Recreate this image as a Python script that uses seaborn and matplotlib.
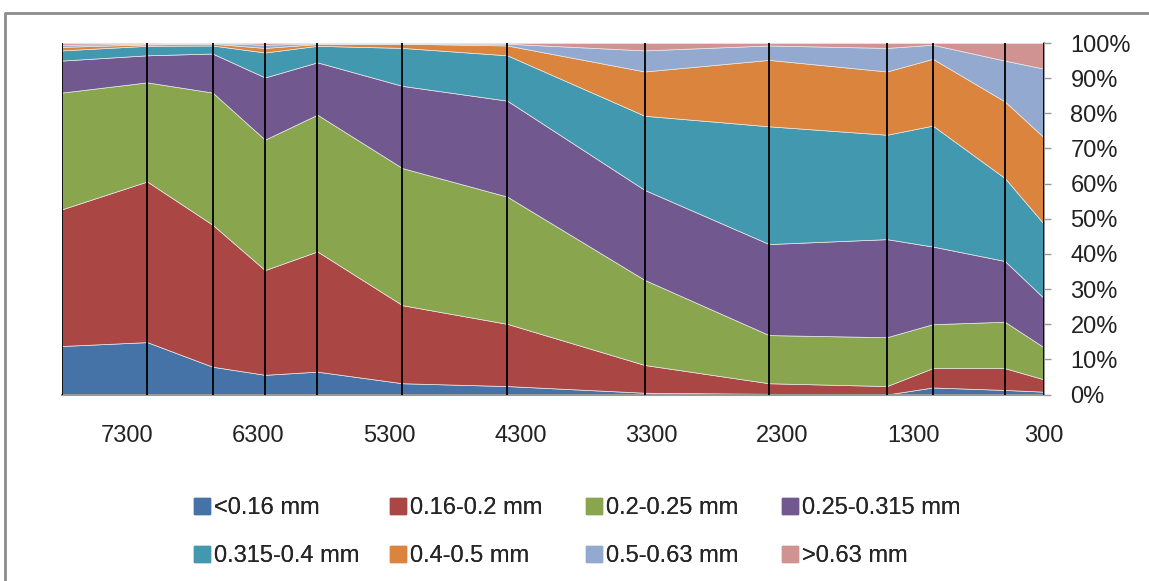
import numpy as np
import pandas as pd
import matplotlib
matplotlib.use('Agg')
import matplotlib.pyplot as plt
import seaborn as sns
from matplotlib.lines import Line2D

# sample positions and fraction shares in %
depth = [7800, 7150, 6650, 6250, 5850, 5200, 4400, 3350, 2400, 1500, 1150, 600, 300]
lt_016 = [13.8, 14.9, 7.9, 5.6, 6.5, 3.2, 2.4, 0.5, 0.2, 0.0, 2.0, 1.3, 0.8]
f016_02 = [38.9, 45.7, 40.4, 29.8, 34.2, 22.2, 17.7, 7.9, 3.0, 2.4, 5.5, 6.2, 3.5]
f02_025 = [33.2, 28.2, 37.6, 37.1, 38.9, 39.0, 36.2, 24.2, 13.7, 13.9, 12.5, 13.2, 9.1]
f025_0315 = [9.1, 7.7, 11.1, 17.7, 14.9, 23.4, 27.3, 25.6, 25.9, 27.9, 22.1, 17.3, 14.0]
f0315_04 = [2.9, 2.7, 2.3, 7.1, 4.7, 10.8, 12.9, 21.1, 33.5, 29.7, 34.4, 23.6, 21.1]
f04_05 = [1.0, 0.4, 0.5, 1.3, 0.5, 1.2, 2.8, 12.6, 18.9, 18.0, 19.0, 21.8, 24.6]
f05_063 = [0.6, 0.2, 0.2, 0.9, 0.2, 0.1, 0.5, 6.0, 4.1, 6.7, 4.0, 11.6, 19.6]
gt_063 = [0.5, 0.2, 0.0, 0.5, 0.1, 0.1, 0.2, 2.1, 0.7, 1.4, 0.5, 5.0, 7.3]

labels = ['<0.16 mm', '0.16-0.2 mm', '0.2-0.25 mm', '0.25-0.315 mm',
          '0.315-0.4 mm', '0.4-0.5 mm', '0.5-0.63 mm', '>0.63 mm']
colors = ['#4572A7', '#AA4643', '#89A54E', '#71588F',
          '#4198AF', '#DB843D', '#93A9CF', '#D19392']
xticks = [7300, 6300, 5300, 4300, 3300, 2300, 1300, 300]
yticks = list(range(0, 101, 10))

df = pd.DataFrame({'depth': depth}).assign(**dict(zip(labels, [
    lt_016, f016_02, f02_025, f025_0315, f0315_04, f04_05, f05_063, gt_063])))
# normalise to 100 %
shares = df[labels].div(df[labels].sum(axis=1), axis=0) * 100

sns.set_theme(style='white')
plt.rcParams['font.family'] = ['Liberation Sans', 'DejaVu Sans']

fig = plt.figure(figsize=(11.49, 5.81), dpi=100)
ax = fig.add_axes([62 / 1149, 1 - 394.5 / 581, (1044 - 62) / 1149, (394.5 - 43) / 581])

ax.stackplot(df['depth'], *[shares[c] for c in labels], colors=colors,
             labels=labels, edgecolor='#e8e8e8', linewidth=0.5)
ax.vlines(df['depth'], 0, 100, color='black', linewidth=1.3, zorder=3)

ax.set_xlim(max(depth), min(depth))
ax.set_ylim(0, 100)
ax.set_xticks(xticks)
ax.set_xticklabels([str(v) for v in xticks])
ax.set_yticks(yticks)
ax.set_yticklabels([f'{v}%' for v in yticks])
ax.yaxis.tick_right()
ax.tick_params(axis='y', which='major', direction='out', length=5, width=1,
               color='#999999', labelsize=17, pad=14, right=True, left=False)
ax.tick_params(axis='x', length=0, labelsize=17, pad=22)
for t in ax.get_yticklabels() + ax.get_xticklabels():
    t.set_color('#222222')

for s in ['top', 'left']:
    ax.spines[s].set_visible(False)
for s in ['right', 'bottom']:
    ax.spines[s].set_color('#999999')
    ax.spines[s].set_linewidth(1.5)
ax.grid(False)

# legend: 2 rows x 4 columns, filled row by row, evenly spaced columns
handles = [Line2D([0], [0], marker='s', linestyle='none', markersize=11,
                  markerfacecolor=c, markeredgecolor=c) for c in colors]
col_x = [193, 389, 585, 781]
for i, x in enumerate(col_x):
    leg = fig.legend([handles[i], handles[i + 4]], [labels[i], labels[i + 4]],
                     loc='center left', bbox_to_anchor=(x / 1149, 1 - 532 / 581),
                     frameon=False, fontsize=17, handletextpad=0.1,
                     labelspacing=1.1, handlelength=0.8,
                     borderpad=0, borderaxespad=0)
    fig.add_artist(leg)

# chart area border (top and left visible)
fig.add_artist(Line2D([5 / 1149, 5 / 1149, 1.0], [0.0, 1 - 13 / 581, 1 - 13 / 581],
                      transform=fig.transFigure, color='#8c8c8c', linewidth=2))

fig.savefig('out.png', dpi=100, facecolor='white')
